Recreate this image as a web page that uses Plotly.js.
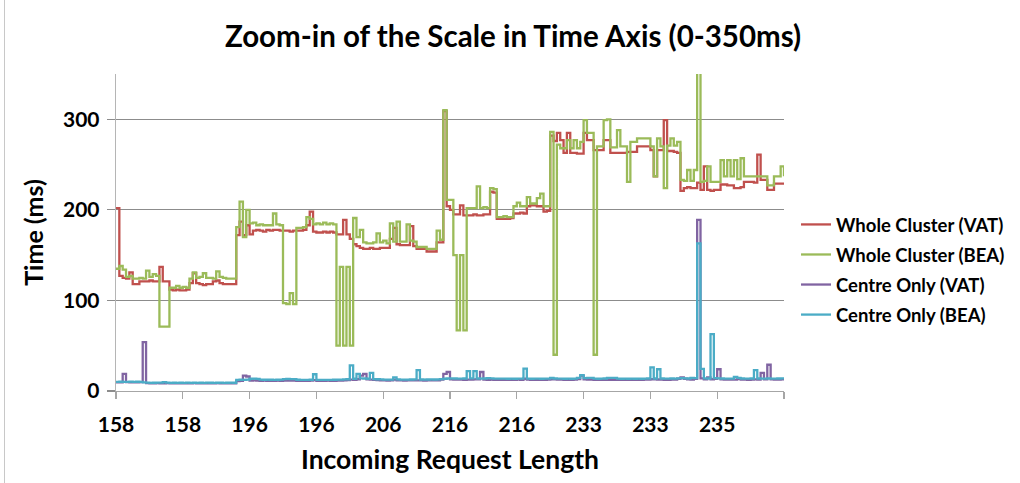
<!DOCTYPE html>
<html>
<head>
<meta charset="utf-8">
<script src="https://cdn.plot.ly/plotly-3.0.1.min.js"></script>
<style>html,body{margin:0;padding:0;background:#fff;}#chart{width:1020px;height:483px;}</style>
</head>
<body>
<div id="chart"></div>
<script>
// Tick labels of the category axis (Incoming Request Length), one every 20 requests
const tickLabels = ['158','158','196','196','206','216','216','233','233','235'];
const seriesNames = ['Whole Cluster (VAT)','Whole Cluster (BEA)','Centre Only (VAT)','Centre Only (BEA)'];

// Whole Cluster (VAT), ms
const wholeVAT = [202,127,125,124,131,118,118,121,121,121,122,121,121,137,121,121,112,111,112,111,
111,112,119,130,119,118,117,118,118,121,122,119,118,118,118,118,172,187,172,183,
173,177,178,177,176,178,177,178,178,177,177,177,176,177,177,177,178,183,198,176,
175,175,176,175,176,175,173,173,189,173,168,162,160,158,157,157,158,157,157,158,
158,158,168,180,162,161,161,161,182,160,157,157,157,154,154,154,164,164,309,204,
200,195,195,205,194,194,194,195,194,194,195,195,220,219,190,190,190,190,191,196,
196,197,196,204,205,205,204,204,198,199,282,276,285,277,263,285,263,263,262,262,
285,277,277,266,266,266,277,277,263,263,263,263,263,264,264,264,270,270,270,270,
266,237,266,266,299,265,265,264,263,221,224,225,224,224,230,222,248,222,221,222,
222,228,228,227,227,224,224,225,231,231,231,230,261,233,233,222,222,229,229,229,229];

// Whole Cluster (BEA), ms
const wholeBEA = [135,138,134,126,127,124,124,125,124,133,126,129,127,71,71,71,114,114,116,114,
115,114,124,131,125,126,130,125,125,124,132,126,125,124,124,124,181,209,170,200,
185,186,183,184,183,183,183,196,184,183,97,96,108,96,180,180,181,192,190,184,
185,184,186,184,185,184,50,137,50,137,50,191,170,178,164,163,163,164,174,164,
166,163,185,165,187,165,165,184,166,165,159,159,159,157,157,157,177,167,310,211,
211,150,67,150,67,202,202,202,226,202,203,202,224,223,192,192,193,192,192,204,
208,204,204,214,207,207,213,218,204,204,286,40,272,268,268,277,268,277,268,275,
299,285,285,40,270,270,299,300,269,269,288,270,270,231,275,275,279,279,279,279,
270,237,279,270,224,271,279,271,275,233,232,244,232,244,360,231,232,248,231,231,
231,255,237,255,237,255,234,257,237,237,237,237,237,237,237,227,227,237,237,248,237];

// Centre Only (VAT), ms
const centreVAT = [9.5,9.5,19,9.8,9.6,9.5,9.5,9.8,54,8.6,8.5,8.4,8.7,8.5,8.4,8.6,8.5,8.4,8.5,8.4,
8.5,8.4,8.5,8.6,8.4,8.5,8.4,8.5,8.4,8.5,8.6,8.5,8.4,8.5,8.4,8.5,11,11.2,17,16,
11.5,11.8,11.5,11.3,11.4,11.2,11.3,11.2,11.4,11.3,11.5,11.6,11.5,11.4,11.3,11.2,11.3,11.2,11.4,12,
11.3,11.2,11.3,11.4,11.2,11.3,11.4,11.6,11.8,12,12.5,12.2,13,17,19,13,12.5,12.2,12,11.8,
11.8,11.6,11.7,12.5,11.8,11.7,11.6,11.7,11.8,11.7,11.8,11.7,11.6,11.7,11.8,11.7,11.8,12.5,19,21,
12.8,12.6,12.5,12.6,12.4,12.6,12.5,12.8,13,21,12.6,12.4,12.5,12.4,12.3,12.4,12.3,12.4,12.3,12.4,
12.5,12.4,13.5,12.5,12.4,12.3,12.4,12.3,12.4,12.5,12.8,13,12.7,12.5,12.4,12.3,12.4,12.5,13.2,17,
13,12.6,12.5,12.4,12.3,12.4,12.3,12.4,12.3,12.2,12.3,12.2,12.3,12.2,12.3,12.4,12.3,12.4,12.5,12.6,
13,12.8,12.7,12.5,12.4,12.3,12.5,12.6,13.5,15,13.5,12.8,12.6,13.5,189,14,13,15,13,13.5,
24,13,12.6,12.5,12.6,12.5,13.5,12.6,12.5,12.4,12.6,12.8,12.6,20,12.8,29,12.8,12.6,12.7,12.8,12.9];

// Centre Only (BEA), ms
const centreBEA = [10,10.2,10,10.1,10.3,10,10.2,10.1,9.5,9.2,9,9.1,9.3,9.2,9.8,9.2,9,9.1,9,9.1,
9,9.2,9,9.1,9,9.1,9,9.2,9.1,9,9.1,9.2,9,9.1,9.2,9.1,12.2,12.4,12.3,12.5,
13.5,13.6,13.4,12.6,12.4,12.5,12.4,12.3,12.4,12.5,13.2,13.3,13.2,13.1,12.4,12.3,12.2,12.3,12.4,18.5,
12.3,12.2,12.3,12.2,12.3,12.4,12.5,12.6,12.8,13,28.4,13.5,19,14,13.8,13.5,20,13.2,13,12.8,
12.6,12.5,12.6,15,12.8,12.6,12.5,12.6,12.7,12.8,23,12.7,12.6,12.7,12.8,12.7,12.8,13.2,13.5,13.8,
14,13.8,13.7,13.6,13.8,22,14,22,13.8,13.6,13.8,14.2,14,13.7,13.6,13.7,13.6,13.5,13.6,13.5,
13.6,13.7,24.7,13.6,13.5,13.6,13.7,13.5,13.6,13.7,14.5,13.8,13.6,13.7,13.5,13.6,13.5,13.6,14.5,17.5,
14.2,14.5,14.4,13.6,13.5,13.6,13.8,14.4,14.5,14.4,13.6,13.5,13.6,13.5,13.6,13.5,13.6,13.5,13.6,13.8,
26,13.8,24,13.8,13.6,13.7,13.8,13.7,14,14.2,14,13.8,14.5,14.2,163,24.5,14,13.8,62.7,14.2,
14,13.8,13.7,13.6,13.7,15.5,14.5,13.8,13.7,13.6,13.8,23,13.8,13.6,13.7,13.8,13.6,13.7,13.8,13.9,14];

const colors = ['#C0504D','#9BBB59','#8064A2','#4BACC6'];
const allSeries = [wholeVAT, wholeBEA, centreVAT, centreBEA];
const xIndex = wholeVAT.map((_, i) => i);
const labelStep = 20;
const tickvals = [];
const ticktext = [];
for (let k = 0; k * labelStep < xIndex.length; k++) {
  tickvals.push(k * labelStep);
  ticktext.push(k < tickLabels.length ? tickLabels[k] : '');
}

const FONT = 'Lato, "Open Sans", sans-serif';

const traces = allSeries.map((ys, s) => ({
  type: 'scatter', mode: 'lines', x: xIndex, y: ys, name: seriesNames[s],
  line: {color: colors[s], width: 2.3, shape: 'hv'}, legendgroup: 'g' + s,
  hoverinfo: 'skip'
}));

const layout = {
  width: 1020, height: 483,
  margin: {l: 116, r: 236, t: 74, b: 92, pad: 0, autoexpand: false},
  paper_bgcolor: '#ffffff', plot_bgcolor: '#ffffff',
  font: {family: FONT, color: '#000000'},
  title: {text: 'Zoom-in of the Scale in Time Axis (0-350ms)', font: {family: FONT, size: 29.5, weight: 'bold', color: '#000'},
          x: 0.503, xanchor: 'center', y: 0.925, yanchor: 'middle'},
  xaxis: {
    range: [0, xIndex.length - 1], tickmode: 'array', tickvals: tickvals, ticktext: ticktext,
    showgrid: false, zeroline: false, showline: true, linecolor: '#a6a6a6', linewidth: 1.3,
    ticks: 'outside', ticklen: 7, tickcolor: '#a6a6a6', tickwidth: 1.3, ticklabelstandoff: 7,
    tickfont: {family: FONT, size: 21, weight: 'bold', color: '#000'},
    title: {text: 'Incoming Request Length', font: {family: FONT, size: 26.5, weight: 'bold', color: '#000'}, standoff: 16}
  },
  yaxis: {
    range: [0, 350], tickvals: [0, 100, 200, 300], showgrid: true, gridcolor: '#8c8c8c', gridwidth: 1.2,
    zeroline: false, showline: true, linecolor: '#b5b5b5', linewidth: 1.3,
    ticks: 'outside', ticklen: 8, tickcolor: '#8c8c8c', tickwidth: 1.2, ticklabelstandoff: 3,
    tickfont: {family: FONT, size: 21, weight: 'bold', color: '#000'},
    title: {text: 'Time (ms)', font: {family: FONT, size: 25, weight: 'bold', color: '#000'}, standoff: 12}
  },
  showlegend: true,
  legend: {x: 1.018, xanchor: 'left', y: 0.382, yanchor: 'middle', traceorder: 'grouped', tracegroupgap: 3,
           font: {family: FONT, size: 18.5, weight: 'bold', color: '#000'}, bgcolor: 'rgba(0,0,0,0)', itemwidth: 30},
  shapes: [{type: 'line', xref: 'paper', yref: 'paper', x0: -0.1669, x1: -0.1669, y0: -0.3, y1: 1.25,
            line: {color: '#c8c8c8', width: 1}}]
};

Plotly.newPlot('chart', traces, layout, {staticPlot: true, displayModeBar: false});
</script>
</body>
</html>
